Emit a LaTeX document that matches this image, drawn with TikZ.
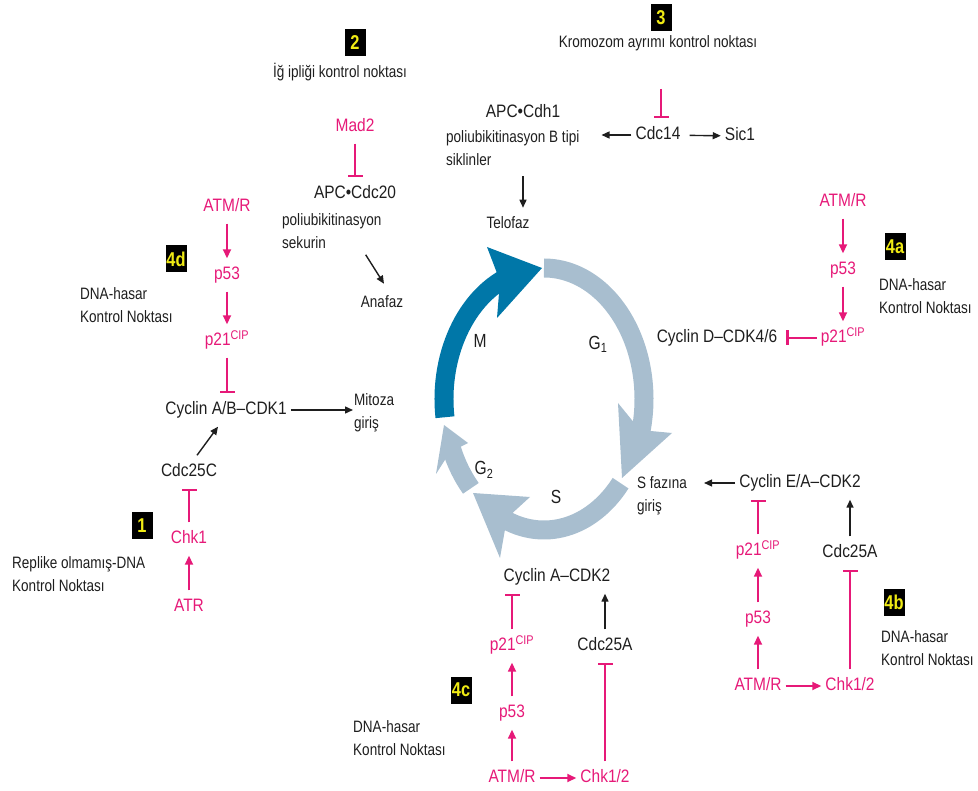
\documentclass[tikz,border=0pt]{standalone}
\usepackage{fontspec}
\setmainfont{Liberation Sans}
\newfontfamily\genefont[FakeStretch=0.86]{Liberation Sans}
\newfontfamily\labelfont[FakeStretch=0.82]{Liberation Sans}
\usetikzlibrary{arrows.meta}
\definecolor{pinkc}{RGB}{230,25,120}
\definecolor{ink}{RGB}{30,30,30}
\definecolor{mblue}{RGB}{0,119,168}
\definecolor{lblue}{RGB}{168,190,207}
\definecolor{yelc}{RGB}{240,235,20}
\begin{document}
\begin{tikzpicture}[x=1pt,y=-1pt,
  gene/.style={font=\genefont\fontsize{18}{20}\selectfont, text=ink, text height=13pt, text depth=4pt, inner xsep=4pt, inner ysep=8pt},
  pgene/.style={gene, text=pinkc},
  lbl/.style={font=\labelfont\fontsize{16.5}{23}\selectfont, text=ink, align=left, inner sep=1pt},
  phase/.style={font=\labelfont\fontsize{19}{20}\selectfont, text=ink},
  numbox/.style={fill=black, text=yelc, font=\labelfont\bfseries\fontsize{20}{20}\selectfont, minimum width=21pt, minimum height=27pt, inner sep=0pt},
  pact/.style={draw=pinkc, line width=1.7pt, -{Triangle[length=9pt,width=8pt]}},
  bact/.style={draw=ink, line width=1.4pt, -{Triangle[length=8pt,width=7pt]}},
  inh/.style={draw=pinkc, line width=1.8pt, -{Rectangle[length=2.4pt,width=15pt]}},
  phasearc/.style={line width=19pt}]
\useasboundingbox (0,0) rectangle (978,791);

\draw[phasearc, mblue] (544,399) ++(172:100 and 131) arc[start angle=172, end angle=255, x radius=100, y radius=131];
\fill[mblue] (542,268) -- (487,247) -- (500,281) -- (497,318) -- cycle;
\draw[phasearc, lblue] (544,399) ++(270:100 and 131) arc[start angle=270, end angle=380, x radius=100, y radius=131];
\fill[lblue] (622,478) -- (672,433) -- (640,430) -- (618,403) -- cycle;
\draw[phasearc, lblue] (544,399) ++(40:100 and 131) arc[start angle=40, end angle=115, x radius=100, y radius=131];
\fill[lblue] (473,493) -- (530,497) -- (507,518) -- (500,558) -- cycle;
\draw[phasearc, lblue] (544,399) ++(137:100 and 131) arc[start angle=137, end angle=158, x radius=100, y radius=131];
\fill[lblue] (444,425) -- (468,443) -- (450,452) -- (436,474) -- cycle;

\node[phase] (mlab) at (480,341) {M};
\node[phase] (g1lab) at (598,344) {G\textsubscript{1}};
\node[phase] (g2lab) at (484,470) {G\textsubscript{2}};
\node[phase] (slab) at (556,497) {S};

\node[numbox] (box2) at (355,43) {2};
\node[lbl] (kp2) at (340,72) {İğ ipliği kontrol noktası};
\node[pgene] (mad2) at (355,127) {Mad2};
\node[gene] (apc20) at (355,194) {APC•Cdc20};
\node[lbl, anchor=west] (sekurin) at (281,231) {poliubikitinasyon\\sekurin};
\node[lbl] (anafaz) at (382,302) {Anafaz};
\draw[inh] (mad2) -- (apc20);
\draw[bact] ([xshift=-17pt,yshift=-5pt]sekurin.south east) -- ([xshift=2pt,yshift=11pt]anafaz.north);

\node[numbox] (box3) at (661,18) {3};
\node[lbl] (kp3) at (658,43) {Kromozom ayrımı kontrol noktası};
\node[gene] (cdc14) at (658,135) {Cdc14};
\node[gene] (sic1) at (740,136) {Sic1};
\node[gene] (apccdh1) at (523,113) {APC•Cdh1};
\node[lbl, anchor=west] (polyb) at (445,138) {poliubikitinasyon B tipi};
\node[lbl, anchor=west] (siklin) at (445,160) {siklinler};
\node[lbl] (telofaz) at (508,223) {Telofaz};
\draw[inh] ([xshift=3pt,yshift=-37pt]kp3.south) -- ([xshift=3pt]cdc14.north);
\draw[bact, shorten >=21pt] (cdc14) -- (cdc14 -| polyb.east);
\draw[bact, shorten <=5pt] (cdc14) -- (sic1);
\draw[bact, shorten <=9pt, shorten >=8pt] (siklin.south -| apccdh1) -- (telofaz.north -| apccdh1);

\node[pgene] (atm4d) at (227,207) {ATM/R};
\node[pgene] (p53l) at (227,275) {p53};
\node[pgene] (p21l) at (227,341) {p21\textsuperscript{CIP}};
\node[gene] (cycab) at (226,410) {Cyclin A/B–CDK1};
\node[lbl, anchor=west] (mitoz) at (353,413) {Mitoza\\giriş};
\node[gene] (cdc25c) at (189,472) {Cdc25C};
\node[pgene] (chk1) at (189,539) {Chk1};
\node[pgene] (atr) at (189,607) {ATR};
\node[numbox] (box4d) at (176,259) {4d};
\node[lbl, anchor=west] (dna4d) at (79,305) {DNA-hasar\\Kontrol Noktası};
\node[numbox] (box1) at (142,526) {1};
\node[lbl, anchor=west] (dna1) at (11,574) {Replike olmamış-DNA\\Kontrol Noktası};
\draw[pact] (atm4d) -- (p53l);
\draw[pact] (p53l) -- (p21l);
\draw[inh] (p21l) -- (p21l |- cycab.north);
\draw[bact] (cycab) -- (cycab -| mitoz.west);
\draw[bact] ([xshift=8pt]cdc25c.north) -- ([xshift=-8pt]cycab.south);
\draw[inh] (chk1) -- (cdc25c);
\draw[pact] (atr) -- (chk1);

\node[pgene] (atm4a) at (843,202) {ATM/R};
\node[pgene] (p53r) at (843,270) {p53};
\node[pgene] (p21r) at (843,338) {p21\textsuperscript{CIP}};
\node[gene] (cycd) at (717,338) {Cyclin D–CDK4/6};
\node[numbox] (box4a) at (895,247) {4a};
\node[lbl, anchor=west] (dna4a) at (878,296) {DNA-hasar\\Kontrol Noktası};
\draw[pact] (atm4a) -- (p53r);
\draw[pact] (p53r) -- (p21r);
\draw[inh, shorten >=5pt] (p21r) -- (cycd);

\node[lbl, anchor=west] (sfaz) at (636,496) {S fazına\\giriş};
\node[gene] (cyce) at (800,483) {Cyclin E/A–CDK2};
\node[pgene] (p21b) at (758,551) {p21\textsuperscript{CIP}};
\node[pgene] (p53b) at (758,619) {p53};
\node[pgene] (atm4b) at (758,686) {ATM/R};
\node[pgene] (chk4b) at (850,686) {Chk1/2};
\node[gene] (cdc25b) at (850,553) {Cdc25A};
\node[numbox] (box4b) at (894,602) {4b};
\node[lbl, anchor=west] (dna4b) at (880,648) {DNA-hasar\\Kontrol Noktası};
\draw[bact, shorten >=16pt] (cyce) -- (cyce -| sfaz.east);
\draw[inh] (p21b) -- (p21b |- cyce.south);
\draw[pact] (p53b) -- (p21b);
\draw[pact] (atm4b) -- (p53b);
\draw[pact] (atm4b) -- (chk4b);
\draw[inh] (chk4b) -- (cdc25b);
\draw[bact] (cdc25b) -- (cdc25b |- cyce.south);

\node[gene] (cyca) at (557,577) {Cyclin A–CDK2};
\node[pgene] (p21c) at (512,646) {p21\textsuperscript{CIP}};
\node[pgene] (p53c) at (512,713) {p53};
\node[pgene] (atm4c) at (512,778) {ATM/R};
\node[pgene] (chk4c) at (605,778) {Chk1/2};
\node[gene] (cdc25a) at (605,646) {Cdc25A};
\node[numbox] (box4c) at (461,690) {4c};
\node[lbl, anchor=west] (dna4c) at (352,738) {DNA-hasar\\Kontrol Noktası};
\draw[inh] (p21c) -- (p21c |- cyca.south);
\draw[pact] (p53c) -- (p21c);
\draw[pact] (atm4c) -- (p53c);
\draw[pact] (atm4c) -- (chk4c);
\draw[inh] (chk4c) -- (cdc25a);
\draw[bact] (cdc25a) -- (cdc25a |- cyca.south);
\end{tikzpicture}
\end{document}
